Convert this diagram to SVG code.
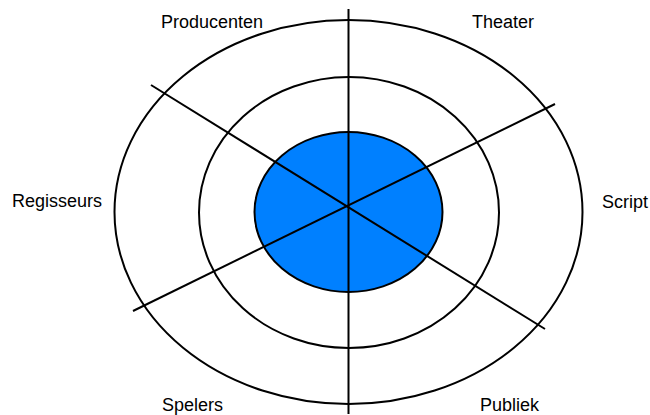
<svg xmlns="http://www.w3.org/2000/svg" width="650" height="415" viewBox="0 0 650 415">
  <style>
    .ring { fill: none; stroke: #000; stroke-width: 2; }
    .core { fill: #0080ff; stroke: #000; stroke-width: 2; }
    .spoke { stroke: #000; stroke-width: 2; fill: none; }
    .lbl { font-family: "Liberation Sans", Arial, sans-serif; font-size: 18px; fill: #000; }
  </style>
  <rect width="650" height="415" fill="#fff"/>
  <g id="ring-outer"><ellipse class="ring" cx="348.5" cy="212" rx="234" ry="192"/></g>
  <g id="ring-middle"><ellipse class="ring" cx="349" cy="212.5" rx="150" ry="135.5"/></g>
  <g id="ring-core"><ellipse class="core" cx="348.5" cy="212" rx="94" ry="80"/></g>
  <g id="connectors">
    <line class="spoke" x1="348.5" y1="9" x2="348.5" y2="414" stroke-width="2.5"/>
    <line class="spoke" x1="151" y1="85" x2="545" y2="329"/>
    <line class="spoke" x1="133" y1="311" x2="555" y2="104"/>
  </g>
  <g id="label-producenten"><text class="lbl" x="161" y="28">Producenten</text></g>
  <g id="label-theater"><text class="lbl" x="472" y="28">Theater</text></g>
  <g id="label-regisseurs"><text class="lbl" x="12" y="207">Regisseurs</text></g>
  <g id="label-script"><text class="lbl" x="602" y="208">Script</text></g>
  <g id="label-spelers"><text class="lbl" x="162" y="410.5">Spelers</text></g>
  <g id="label-publiek"><text class="lbl" x="480" y="410.5">Publiek</text></g>
</svg>
